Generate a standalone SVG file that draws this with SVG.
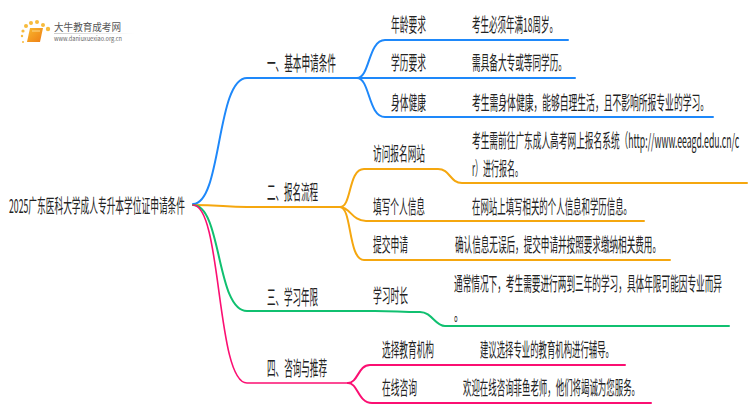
<svg xmlns="http://www.w3.org/2000/svg" width="750" height="410" viewBox="0 0 750 410">
<style>
text{font-family:"Noto Sans CJK SC","Liberation Sans",sans-serif;fill:#222;font-size:19px}
.h{font-size:20px}
.c{fill:none;stroke-linecap:round}
.b{stroke:#1e88fa}.o{stroke:#f5a70f}.g{stroke:#10c070}.p{stroke:#fb0f72}
.m{stroke-width:2}.t{stroke-width:1.6}
.d{fill:#f7bb3c}
</style>
<defs><linearGradient id="lg"><stop offset="0" stop-color="#ccc"/><stop offset="1" stop-color="#fff"/></linearGradient>
<linearGradient id="bk" x1="0" y1="0" x2="1" y2="1"><stop offset="0" stop-color="#f9b92e"/><stop offset="1" stop-color="#ee7d14"/></linearGradient></defs>
<rect width="750" height="410" fill="#fff"/>
<g id="connectors">
<path class="c b m" d="M193 204C222 204 216 78 247 78H357"/>
<path class="c o m" d="M193 205C220 205 225 207 247 207H340"/>
<path class="c g m" d="M193 205C222 205 216 311 247 311H375C395 311 400 312 420 312C432 312 435 326 445 326H729"/>
<path class="c p t" d="M193 205C222 205 216 383 247 383H348"/>
<path class="c b m" d="M357 78C370 78 368 40 385 40H568"/>
<path class="c b m" d="M357 78H575"/>
<path class="c b m" d="M357 78C370 78 368 117 385 117H713"/>
<path class="c o m" d="M340 207C352 207 348 169 364 169H438C450 169 450 183 462 183H747"/>
<path class="c o m" d="M340 207C350 207 352 221 366 221H644"/>
<path class="c o m" d="M340 207C352 207 348 260 364 260H670"/>
<path class="c p m" d="M348 383C358 383 358 365 370 365H625"/>
<path class="c p m" d="M348 383C358 383 358 403 372 403H651"/>
</g>
<g id="logo">
<circle class="d" cx="23" cy="31" r="1.6"/><circle class="d" cx="26" cy="26" r="2"/><circle class="d" cx="31" cy="23" r="2"/><circle class="d" cx="37" cy="22" r="2"/><circle class="d" cx="43" cy="25" r="2"/><circle class="d" cx="48" cy="29" r="2.2"/><circle class="d" cx="22" cy="36" r="1.2"/><circle class="d" cx="23" cy="42" r="1"/>
<path d="M30 28H43L40 42H27Z" fill="url(#bk)"/>
<path d="M32 31H40" stroke="#fbd98a" fill="none"/>
<text x="54" y="31" textLength="67" lengthAdjust="spacingAndGlyphs" style="font-size:10px;fill:#555">大牛教育成考网</text>
<rect x="54" y="33" width="80" height="1" fill="url(#lg)"/>
<text x="54" y="41" textLength="68" lengthAdjust="spacingAndGlyphs" style="font-size:6px;fill:#666">www.daniuxuexiao.org.cn</text>
</g>
<g id="root"><text transform="translate(9 213) scale(.5 1)" textLength="352" lengthAdjust="spacingAndGlyphs">2025广东医科大学成人专升本学位证申请条件</text></g>
<g id="n1"><text class="h" transform="translate(267 71) scale(.5 1)" textLength="138" lengthAdjust="spacingAndGlyphs">一、基本申请条件</text></g>
<g id="n2"><text class="h" transform="translate(267 200) scale(.5 1)" textLength="102" lengthAdjust="spacingAndGlyphs">二、报名流程</text></g>
<g id="n3"><text class="h" transform="translate(267 305) scale(.5 1)" textLength="102" lengthAdjust="spacingAndGlyphs">三、学习年限</text></g>
<g id="n4"><text class="h" transform="translate(267 376) scale(.5 1)" textLength="120" lengthAdjust="spacingAndGlyphs">四、咨询与推荐</text></g>
<g id="n11"><text transform="translate(391 32) scale(.5 1)" textLength="70" lengthAdjust="spacingAndGlyphs">年龄要求</text><text transform="translate(472 32) scale(.5 1)" textLength="172" lengthAdjust="spacingAndGlyphs">考生必须年满18周岁。</text></g>
<g id="n12"><text transform="translate(391 70) scale(.5 1)" textLength="70" lengthAdjust="spacingAndGlyphs">学历要求</text><text transform="translate(472 70) scale(.5 1)" textLength="190" lengthAdjust="spacingAndGlyphs">需具备大专或等同学历。</text></g>
<g id="n13"><text transform="translate(391 110) scale(.5 1)" textLength="70" lengthAdjust="spacingAndGlyphs">身体健康</text><text transform="translate(472 110) scale(.5 1)" textLength="474" lengthAdjust="spacingAndGlyphs">考生需身体健康，能够自理生活，且不影响所报专业的学习。</text></g>
<g id="n21"><text transform="translate(373 161) scale(.5 1)" textLength="104" lengthAdjust="spacingAndGlyphs">访问报名网站</text><text transform="translate(472 148) scale(.44 1)" textLength="607" lengthAdjust="spacingAndGlyphs">考生需前往广东成人高考网上报名系统（http://www.eeagd.edu.cn/c</text><text transform="translate(472 176) scale(.5 1)" textLength="102" lengthAdjust="spacingAndGlyphs">r）进行报名。</text></g>
<g id="n22"><text transform="translate(373 214) scale(.5 1)" textLength="104" lengthAdjust="spacingAndGlyphs">填写个人信息</text><text transform="translate(472 214) scale(.5 1)" textLength="320" lengthAdjust="spacingAndGlyphs">在网站上填写相关的个人信息和学历信息。</text></g>
<g id="n23"><text transform="translate(373 252) scale(.5 1)" textLength="70" lengthAdjust="spacingAndGlyphs">提交申请</text><text transform="translate(455 252) scale(.5 1)" textLength="412" lengthAdjust="spacingAndGlyphs">确认信息无误后，提交申请并按照要求缴纳相关费用。</text></g>
<g id="n31"><text transform="translate(373 303) scale(.5 1)" textLength="70" lengthAdjust="spacingAndGlyphs">学习时长</text><text transform="translate(454 291) scale(.5 1)" textLength="536" lengthAdjust="spacingAndGlyphs">通常情况下，考生需要进行两到三年的学习，具体年限可能因专业而异</text><text transform="translate(454 321) scale(.5 1)">。</text></g>
<g id="n41"><text transform="translate(382 357) scale(.5 1)" textLength="104" lengthAdjust="spacingAndGlyphs">选择教育机构</text><text transform="translate(480 357) scale(.5 1)" textLength="268" lengthAdjust="spacingAndGlyphs">建议选择专业的教育机构进行辅导。</text></g>
<g id="n42"><text transform="translate(382 395) scale(.5 1)" textLength="70" lengthAdjust="spacingAndGlyphs">在线咨询</text><text transform="translate(463 395) scale(.5 1)" textLength="354" lengthAdjust="spacingAndGlyphs">欢迎在线咨询菲鱼老师，他们将竭诚为您服务。</text></g>
</svg>
